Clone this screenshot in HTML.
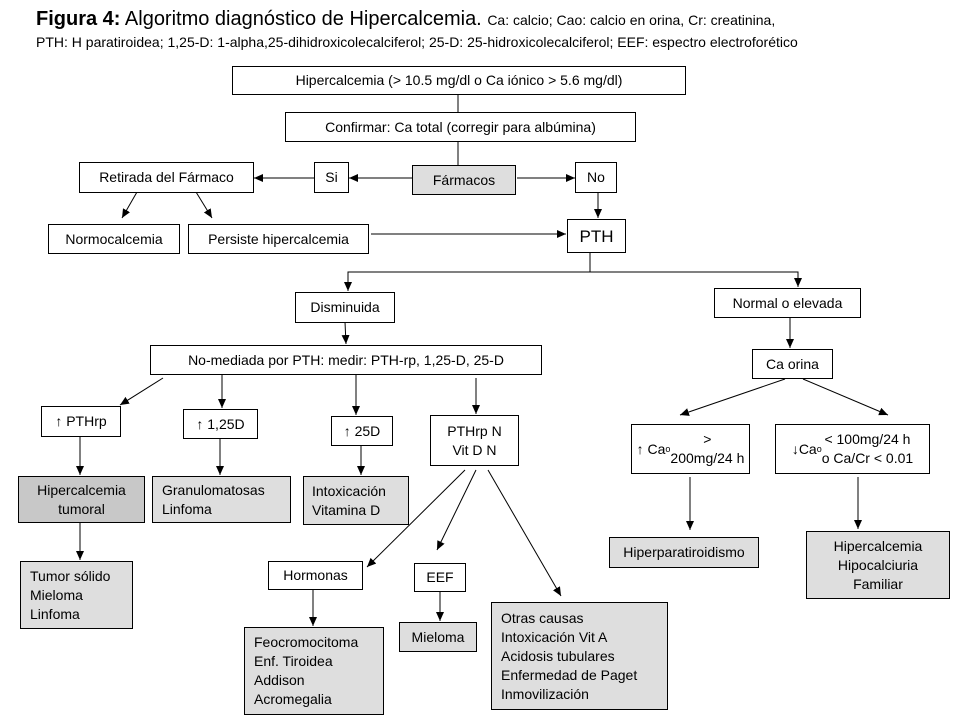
<!DOCTYPE html>
<html><head><meta charset="utf-8"><style>
html,body{margin:0;padding:0;background:#fff;}
#c{position:relative;width:960px;height:720px;overflow:hidden;font-family:"Liberation Sans",Arial,sans-serif;color:#000;}
.b{position:absolute;box-sizing:border-box;border:1px solid #000;background:#fff;font-size:14px;line-height:19px;display:flex;align-items:center;justify-content:center;text-align:center;white-space:nowrap;}
.g{background:#dedede;}
.d{background:#c8c8c8;}
.l{justify-content:flex-start;text-align:left;padding-left:9px;}
svg{position:absolute;left:0;top:0;}
.t1{position:absolute;left:36px;top:8px;font-size:20px;white-space:nowrap;}
.t2{position:absolute;left:36px;top:34px;font-size:14px;white-space:nowrap;}
</style></head><body><div id="c">
<div class="t1"><b>Figura 4:</b> Algoritmo diagnóstico de Hipercalcemia. <span style="font-size:14px">Ca: calcio; Cao: calcio en orina, Cr: creatinina,</span></div>
<div class="t2">PTH: H paratiroidea; 1,25-D: 1-alpha,25-dihidroxicolecalciferol; 25-D: 25-hidroxicolecalciferol; EEF: espectro electroforético</div>
<svg width="960" height="720">
<defs><marker id="a" markerWidth="10" markerHeight="10" refX="9" refY="4" orient="auto" markerUnits="userSpaceOnUse"><path d="M0,0 L9,4 L0,8 z" fill="#000"/></marker></defs>
<g stroke="#000" stroke-width="1" fill="none">
<line x1="458" y1="94" x2="458" y2="112"/>
<line x1="458" y1="141" x2="458" y2="165"/>
<line x1="412" y1="178" x2="349" y2="178" marker-end="url(#a)"/>
<line x1="314" y1="178" x2="254" y2="178" marker-end="url(#a)"/>
<line x1="517" y1="178" x2="575" y2="178" marker-end="url(#a)"/>
<line x1="598" y1="192" x2="598" y2="218" marker-end="url(#a)"/>
<line x1="137" y1="192" x2="122" y2="218" marker-end="url(#a)"/>
<line x1="196" y1="192" x2="212" y2="218" marker-end="url(#a)"/>
<line x1="371" y1="234" x2="566" y2="234" marker-end="url(#a)"/>
<polyline points="590,252 590,272 348,272 348,291" marker-end="url(#a)"/>
<polyline points="590,272 798,272 798,287" marker-end="url(#a)"/>
<line x1="345" y1="322" x2="346" y2="344" marker-end="url(#a)"/>
<line x1="790" y1="318" x2="790" y2="348" marker-end="url(#a)"/>
<line x1="785" y1="379" x2="680" y2="415" marker-end="url(#a)"/>
<line x1="803" y1="379" x2="888" y2="415" marker-end="url(#a)"/>
<line x1="163" y1="378" x2="120" y2="405" marker-end="url(#a)"/>
<line x1="222" y1="374" x2="222" y2="408" marker-end="url(#a)"/>
<line x1="356" y1="374" x2="356" y2="415" marker-end="url(#a)"/>
<line x1="476" y1="378" x2="476" y2="414" marker-end="url(#a)"/>
<line x1="80" y1="436" x2="80" y2="475" marker-end="url(#a)"/>
<line x1="220" y1="438" x2="220" y2="475" marker-end="url(#a)"/>
<line x1="361" y1="445" x2="361" y2="475" marker-end="url(#a)"/>
<line x1="465" y1="470" x2="367" y2="567" marker-end="url(#a)"/>
<line x1="476" y1="470" x2="437" y2="550" marker-end="url(#a)"/>
<line x1="488" y1="470" x2="561" y2="596" marker-end="url(#a)"/>
<line x1="80" y1="522" x2="80" y2="560" marker-end="url(#a)"/>
<line x1="313" y1="589" x2="313" y2="626" marker-end="url(#a)"/>
<line x1="440" y1="591" x2="440" y2="621" marker-end="url(#a)"/>
<line x1="690" y1="477" x2="690" y2="530" marker-end="url(#a)"/>
<line x1="858" y1="477" x2="858" y2="529" marker-end="url(#a)"/>
</g></svg>
<div class="b" style="left:232px;top:66px;width:454px;height:29px;">Hipercalcemia (&gt; 10.5 mg/dl o Ca iónico &gt; 5.6 mg/dl)</div>
<div class="b" style="left:285px;top:112px;width:351px;height:30px;">Confirmar: Ca total (corregir para albúmina)</div>
<div class="b g" style="left:412px;top:165px;width:104px;height:30px;">Fármacos</div>
<div class="b" style="left:314px;top:162px;width:35px;height:31px;">Si</div>
<div class="b" style="left:575px;top:162px;width:42px;height:31px;">No</div>
<div class="b" style="left:79px;top:162px;width:175px;height:31px;">Retirada del Fármaco</div>
<div class="b" style="left:48px;top:224px;width:132px;height:30px;">Normocalcemia</div>
<div class="b" style="left:188px;top:224px;width:181px;height:30px;">Persiste hipercalcemia</div>
<div class="b" style="left:567px;top:219px;width:59px;height:34px;font-size:17px;">PTH</div>
<div class="b" style="left:295px;top:292px;width:100px;height:31px;">Disminuida</div>
<div class="b" style="left:714px;top:288px;width:147px;height:30px;">Normal o elevada</div>
<div class="b" style="left:150px;top:345px;width:392px;height:30px;">No-mediada por PTH: medir: PTH-rp, 1,25-D, 25-D</div>
<div class="b" style="left:752px;top:349px;width:81px;height:30px;">Ca orina</div>
<div class="b" style="left:41px;top:406px;width:80px;height:31px;">↑ PTHrp</div>
<div class="b" style="left:183px;top:409px;width:75px;height:30px;">↑ 1,25D</div>
<div class="b" style="left:331px;top:416px;width:62px;height:30px;">↑ 25D</div>
<div class="b" style="left:430px;top:415px;width:89px;height:51px;">PTHrp N<br>Vit D N</div>
<div class="b" style="left:631px;top:424px;width:119px;height:50px;">↑ Ca<sub style="font-size:9px">o</sub> &gt;<br>200mg/24 h</div>
<div class="b" style="left:775px;top:424px;width:155px;height:50px;">↓Ca<sub style="font-size:9px">o</sub> &lt; 100mg/24 h<br>o Ca/Cr &lt; 0.01</div>
<div class="b d" style="left:18px;top:476px;width:127px;height:47px;">Hipercalcemia<br>tumoral</div>
<div class="b g l" style="left:152px;top:476px;width:139px;height:47px;">Granulomatosas<br>Linfoma</div>
<div class="b g l" style="left:303px;top:476px;width:106px;height:49px;padding-left:8px;">Intoxicación<br>Vitamina D</div>
<div class="b g l" style="left:20px;top:561px;width:113px;height:68px;">Tumor sólido<br>Mieloma<br>Linfoma</div>
<div class="b g" style="left:609px;top:537px;width:150px;height:31px;">Hiperparatiroidismo</div>
<div class="b g" style="left:806px;top:531px;width:144px;height:68px;">Hipercalcemia<br>Hipocalciuria<br>Familiar</div>
<div class="b" style="left:268px;top:561px;width:95px;height:29px;">Hormonas</div>
<div class="b" style="left:414px;top:563px;width:52px;height:29px;">EEF</div>
<div class="b g" style="left:399px;top:622px;width:78px;height:30px;">Mieloma</div>
<div class="b g l" style="left:491px;top:602px;width:177px;height:108px;">Otras causas<br>Intoxicación Vit A<br>Acidosis tubulares<br>Enfermedad de Paget<br>Inmovilización</div>
<div class="b g l" style="left:244px;top:627px;width:140px;height:88px;">Feocromocitoma<br>Enf. Tiroidea<br>Addison<br>Acromegalia</div>
</div></body></html>
